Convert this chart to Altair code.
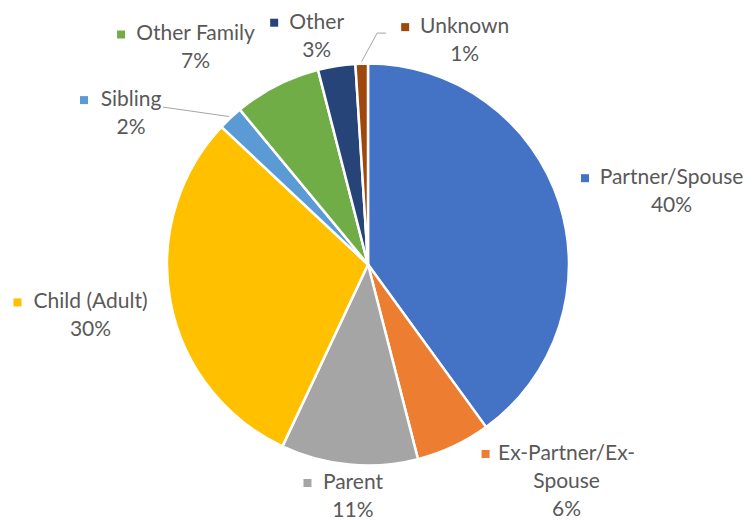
import math
import altair as alt
import pandas as pd

# ---- data ----
categories = ["Partner/Spouse", "Ex-Partner/Ex-Spouse", "Parent", "Child (Adult)",
              "Sibling", "Other Family", "Other", "Unknown"]
label_lines = ["Partner/Spouse", "Ex-Partner/Ex-\nSpouse", "Parent", "Child (Adult)",
               "Sibling", "Other Family", "Other", "Unknown"]
values = [40, 6, 11, 30, 2, 7, 3, 1]
colors = ["#4472C4", "#ED7D31", "#A5A5A5", "#FFC000",
          "#5B9BD5", "#70AD47", "#264478", "#9E480E"]

# ---- layout (pixels, plot coordinates) ----
CX, CY, R = 360.0, 256.5, 201.0
LINE_H = 28
# label block placement: (angle offset from slice middle in degrees, distance from centre)
label_polar = {
    "Partner/Spouse": (4.6, 312.0),
    "Ex-Partner/Ex-Spouse": (-17.2, 294.5),
    "Parent": (-1.7, 233.0),
    "Child (Adult)": (0.2, 282.3),
    "Sibling": (-14.4, 280.7),
    "Other Family": (-11.6, 276.4),
    "Other": (-3.7, 233.5),
    "Unknown": (25.2, 243.4),
}
# widths of the first text line (for placing the colour key square)
first_line_w = {
    "Partner/Spouse": 139, "Ex-Partner/Ex-Spouse": 128, "Parent": 57,
    "Child (Adult)": 112, "Sibling": 60, "Other Family": 115,
    "Other": 51, "Unknown": 85,
}
KEY_GAP = 17

total = sum(values)
rows = []
cum = 0
mid_angle = {}
for i, (c, lab, v) in enumerate(zip(categories, label_lines, values)):
    mid = (cum + v / 2) / total * 360.0
    mid_angle[c] = mid
    cum += v
    dth, dist = label_polar[c]
    a = math.radians(mid + dth)
    lx = CX + dist * math.sin(a)
    ly = CY - dist * math.cos(a)
    n = lab.count("\n") + 2
    first_y = ly - (n - 1) / 2 * LINE_H
    rows.append(dict(
        category=c, value=v, idx=i,
        label=f"{lab}\n{v}%",
        lx=lx, ly=first_y,
        kx=lx - first_line_w[c] / 2 - KEY_GAP, ky=first_y,
        name_left=lx - first_line_w[c] / 2, name_right=lx + first_line_w[c] / 2,
    ))
df = pd.DataFrame(rows)

# leader lines (Sibling, Unknown)
def edge(cat, r=203):
    a = math.radians(mid_angle[cat])
    return CX + r * math.sin(a), CY - r * math.cos(a)

lead = []
sib = df[df.category == "Sibling"].iloc[0]
ex, ey = edge("Sibling")
lead += [dict(g="Sibling", s=0, x=ex, y=ey),
         dict(g="Sibling", s=1, x=sib.name_right + 2, y=sib.ky + 7)]
unk = df[df.category == "Unknown"].iloc[0]
ex, ey = edge("Unknown")
lead += [dict(g="Unknown", s=0, x=ex, y=ey),
         dict(g="Unknown", s=1, x=unk.name_left - 45, y=unk.ky + 6),
         dict(g="Unknown", s=2, x=unk.name_left - 36, y=unk.ky + 6)]
lead_df = pd.DataFrame(lead)

color_scale = alt.Scale(domain=categories, range=colors)

base = alt.Chart(df)

pie = base.mark_arc(stroke="white", strokeWidth=2.5).encode(
    theta=alt.Theta("value:Q", stack=True),
    order=alt.Order("idx:Q"),
    color=alt.Color("category:N", scale=color_scale, legend=None),
    x=alt.value(CX), y=alt.value(CY), radius=alt.value(R),
)

labels = base.mark_text(
    font="Lato", fontSize=21, color="#595959", lineBreak="\n",
    lineHeight=LINE_H, align="center", baseline="middle",
).encode(
    x=alt.X("lx:Q", scale=None), y=alt.Y("ly:Q", scale=None), text="label:N",
)

keys = base.mark_square(size=64, opacity=1).encode(
    x=alt.X("kx:Q", scale=None), y=alt.Y("ky:Q", scale=None),
    color=alt.Color("category:N", scale=color_scale, legend=None),
)

leaders = alt.Chart(lead_df).mark_line(color="#A6A6A6", strokeWidth=1).encode(
    x=alt.X("x:Q", scale=None), y=alt.Y("y:Q", scale=None),
    detail="g:N", order="s:Q",
)

chart = alt.layer(pie, leaders, labels, keys).properties(
    width=737, height=512, padding=0,
    autosize=alt.AutoSizeParams(type="none"),
).configure_view(stroke=None)

chart.save("out.html", embed_options={"renderer": "svg", "actions": False})
